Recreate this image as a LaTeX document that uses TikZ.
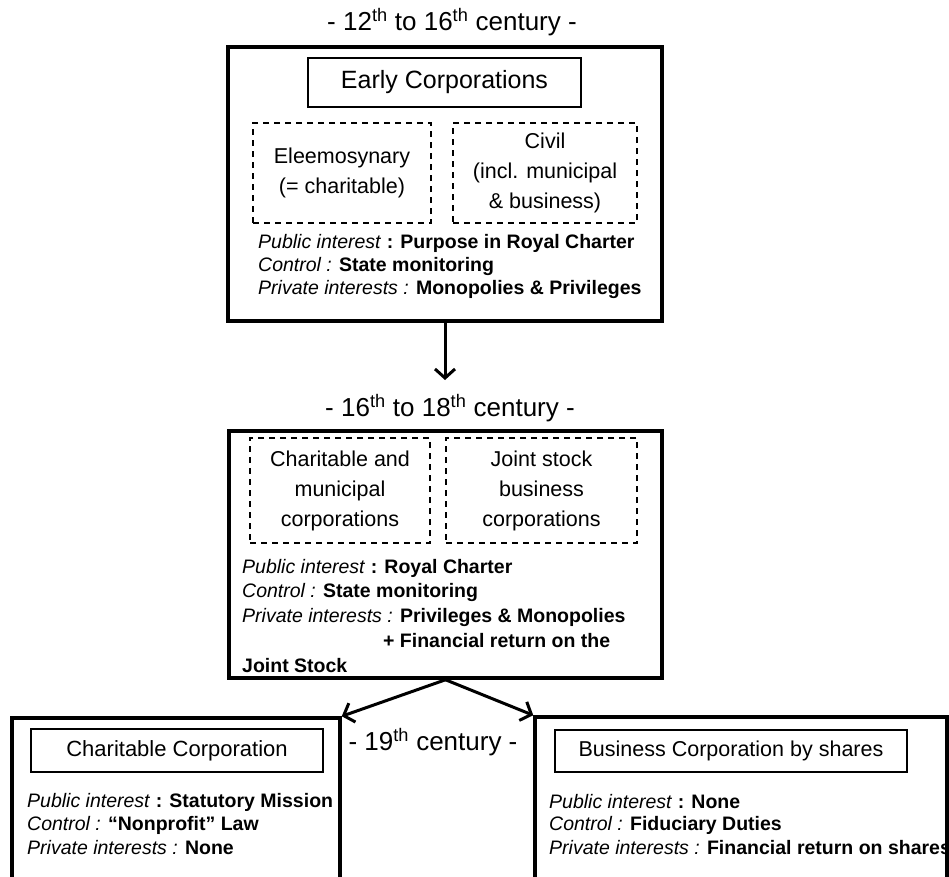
\documentclass[tikz,border=0pt]{standalone}
\usepackage{fontspec}
\setmainfont{Liberation Sans}
\usetikzlibrary{arrows.meta}

\tikzset{
	era/.style={draw, line width=3.5pt, inner sep=0pt},
	headbox/.style={draw, line width=1.3pt, inner sep=0pt, font=\fontsize{22}{28}\selectfont},
	kindbox/.style={draw, dashed, dash pattern=on 6pt off 5pt, line width=1.3pt, inner sep=0pt, align=center, font=\fontsize{21.5}{30}\selectfont},
	period/.style={inner sep=0pt, font=\fontsize{26}{30}\selectfont},
	fact/.style={anchor=west, inner sep=0pt, font=\fontsize{19.5}{23}\selectfont},
	flow/.style={line width=3pt, -{Straight Barb[length=9pt,width=20pt,line width=3pt]}}
}

\begin{document}
\begin{tikzpicture}[x=1pt, y=-1pt]
	\useasboundingbox (0,0) rectangle (949,876);
	\clip (0,0) rectangle (949,876);

	% 12-16 век
	\node (title12) [period] at (452,22) {- 12\textsuperscript{th} to 16\textsuperscript{th} century -};
	\node (era12) [era, minimum width=434pt, minimum height=274pt] at (445,184) {};
	\node (early) [headbox, font=\fontsize{25}{28}\selectfont, minimum width=273pt, minimum height=49pt] at (444.5,82.5) {Early Corporations};
	\node (eleemo) [kindbox, minimum width=178pt, minimum height=100pt] at (342,173) {Eleemosynary\\(= charitable)};
	\node (civil) [kindbox, minimum width=184pt, minimum height=100pt] at (545,173) {Civil\\(incl. municipal\\\& business)};
	\node (pub12) [fact] at (258,243) {\textit{Public interest} \textbf{: Purpose in Royal Charter}};
	\node (ctl12) [fact] at (258,266) {\textit{Control :} \textbf{State monitoring}};
	\node (priv12) [fact] at (258,289) {\textit{Private interests :} \textbf{Monopolies \& Privileges}};

	% 16-18 век
	\node (title16) [period] at (450,408) {- 16\textsuperscript{th} to 18\textsuperscript{th} century -};
	\node (era16) [era, minimum width=433pt, minimum height=247pt] at (445.5,554.5) {};
	\node (charmun) [kindbox, minimum width=180pt, minimum height=105pt] at (340,490.5) {Charitable and\\municipal\\corporations};
	\node (jointstock) [kindbox, minimum width=191pt, minimum height=105pt] at (541.5,490.5) {Joint stock\\business\\corporations};
	\node (pub16) [fact] at (242,568) {\textit{Public interest} \textbf{: Royal Charter}};
	\node (ctl16) [fact] at (242,592) {\textit{Control :} \textbf{State monitoring}};
	\node (priv16) [fact] at (242,617) {\textit{Private interests :} \textbf{Privileges \& Monopolies}};
	\node (fin16) [fact] at (383,641) {\textbf{+ Financial return on the}};
	\node (stock16) [fact] at (242,666) {\textbf{Joint Stock}};

	% 19 век
	\node (title19) [period] at (433,742) {- 19\textsuperscript{th} century -};

	% благотворительная корпорация
	\node (charity) [era, minimum width=328pt, minimum height=182pt] at (176,809) {};
	\node (charhead) [headbox, minimum width=292pt, minimum height=43pt] at (177,750.5) {Charitable Corporation};
	\node (pubchar) [fact] at (27,802) {\textit{Public interest} \textbf{: Statutory Mission}};
	\node (ctlchar) [fact] at (27,825) {\textit{Control :} \textbf{“Nonprofit” Law}};
	\node (privchar) [fact] at (27,848) {\textit{Private interests :} \textbf{None}};

	% акционерная корпорация
	\node (business) [era, minimum width=412pt, minimum height=183pt] at (741,808.5) {};
	\node (bushead) [headbox, font=\fontsize{21.5}{28}\selectfont, minimum width=352pt, minimum height=42pt] at (731,751) {Business Corporation by shares};
	\node (pubbus) [fact] at (549,802) {\textit{Public interest} \textbf{: None}};
	\node (ctlbus) [fact] at (549,825) {\textit{Control :} \textbf{Fiduciary Duties}};
	\node (privbus) [fact] at (549,848) {\textit{Private interests :} \textbf{Financial return on shares}};
	\draw [line width=3.5pt] (business.north east) -- (business.south east);

	% стрелки
	\draw [flow, shorten >=14pt] (era12.south) -- (era12.south |- title16.north);
	\draw [flow] (era16.south) -- (charity.north east);
	\draw [flow] (era16.south) -- (business.north west);
\end{tikzpicture}
\end{document}
